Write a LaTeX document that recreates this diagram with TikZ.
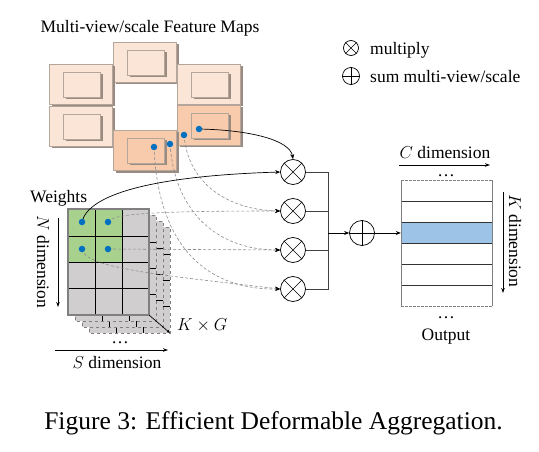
\documentclass[tikz,border=0pt]{standalone}
\usepackage{fontspec}
\setmainfont{Liberation Serif}
\usetikzlibrary{arrows.meta}
\definecolor{fpale}{HTML}{FBE5D6}
\definecolor{forange}{HTML}{F8CBAD}
\definecolor{fedge}{HTML}{B5A69C}
\definecolor{fshadow}{HTML}{9A8A80}
\definecolor{dotblue}{HTML}{0070C0}
\definecolor{cellgray}{HTML}{D0CECE}
\definecolor{cellgreen}{HTML}{A9D18E}
\definecolor{rowblue}{HTML}{9DC3E6}
\definecolor{dashgray}{HTML}{8C8C8C}
\newcommand\fblk[3]{%
  \fill[fshadow] (#1+2.5,#2+2.5) rectangle ++(63,40);
  \filldraw[fmap, fill=#3] (#1,#2) rectangle ++(63,40);
  \fill[fshadow] (#1+16.5,#2+10.5) rectangle ++(37,25);
  \filldraw[fmap, fill=#3] (#1+14,#2+8) rectangle ++(37,25);
}
\begin{document}
\begin{tikzpicture}[x=1pt,y=-1pt,
  fmap/.style={draw=fedge, line width=0.8pt},
  lab/.style={font=\fontsize{17.5}{20}\selectfont, inner sep=0pt},
  dotn/.style={circle, fill=dotblue, inner sep=0pt, minimum size=6.5pt},
  opn/.style={circle, draw, line width=0.7pt, inner sep=0pt, minimum size=25pt, fill=white},
  solc/.style={line width=0.7pt, -{Stealth[length=5pt,width=4pt]}},
  dashc/.style={dashgray, dashed, dash pattern=on 3pt off 2pt, line width=0.6pt, -{Stealth[length=5pt,width=4pt,color=black]}},
  busl/.style={line width=0.8pt, black!75},
  gridl/.style={line width=0.9pt, black},
  dimarrow/.style={line width=0.8pt, -{Stealth[length=5pt,width=3.5pt]}}]
\useasboundingbox (0,0) rectangle (539,452);

% title
\node[lab, anchor=base] (title) at (150,33) {Multi-view/scale Feature Maps};

% feature map blocks
\fblk{113}{42}{fpale}
\fblk{49}{64}{fpale}
\fblk{177}{64}{fpale}
\fblk{49}{106}{fpale}
\fblk{177}{105}{forange}
\fblk{113}{130}{forange}

% legend
\node[opn, minimum size=15pt] (lm) at (351,48) {};
\draw[line width=0.7pt] (lm.north west) -- (lm.south east) (lm.north east) -- (lm.south west);
\node[lab, anchor=base west] (lmt) at (370,55) {multiply};
\node[opn, minimum size=17pt] (ls) at (351,76) {};
\draw[line width=0.7pt] (ls.north) -- (ls.south) (ls.east) -- (ls.west);
\node[lab, anchor=base west] (lst) at (370,83) {sum multi-view/scale};

% weights stack (back layers)
\foreach \i in {3,2,1}{
  \begin{scope}[shift={(7*\i,6*\i)}]
    \filldraw[fill=cellgray, draw=gray, dashed, line width=0.8pt] (68,209) rectangle (149,315);
    \draw[gridl] (95,209)--(95,315) (122,209)--(122,315) (68,236)--(149,236) (68,262)--(149,262) (68,288)--(149,288);
  \end{scope}
}
% front layer
\fill[cellgray] (68,209) rectangle (149,315);
\fill[cellgreen] (68,209) rectangle (122,262);
\draw[gridl] (95,209)--(95,315) (122,209)--(122,315) (68,236)--(149,236) (68,262)--(149,262) (68,288)--(149,288);
\draw[draw=gray, line width=1.2pt] (68,209) rectangle (149,315);
\coordinate (fc) at (149,315);
\coordinate (bcn) at (170,333);
\draw[line width=0.7pt, -{Latex[length=3pt,width=3pt]}] (fc) -- (bcn);
\node[lab, anchor=west] (kg) at (177,325) {$K\times G$};
\node[lab, anchor=base] (sdots) at (120,343) {…};
\coordinate (sa) at (55,350);
\coordinate (sb) at (168,350);
\draw[dimarrow] (sa) -- (sb);
\node[lab, anchor=base] (st) at (117,368) {$S$ dimension};
\node[lab, anchor=base west] (wt) at (30,202) {Weights};
\coordinate (na) at (58,218);
\coordinate (nb) at (58,307);
\draw[dimarrow] (na) -- (nb);
\node[lab, rotate=-90] (nt) at (43,262) {$N$ dimension};

% dot coordinates
\coordinate (f1) at (199,129);
\coordinate (f2) at (184,135);
\coordinate (f3) at (170,144);
\coordinate (f4) at (154,147);
\coordinate (w1) at (82,222);
\coordinate (w2) at (108,222);
\coordinate (w3) at (82,249);
\coordinate (w4) at (108,249);

% operators
\node[opn] (m1) at (293,172) {};
\node[opn] (m2) at (293,211) {};
\node[opn] (m3) at (293,250) {};
\node[opn] (m4) at (293,289) {};
\foreach \n in {m1,m2,m3,m4}{
  \draw[line width=0.7pt] (\n.north west) -- (\n.south east) (\n.north east) -- (\n.south west);
}
\node[opn] (s) at (362,233) {};
\draw[line width=0.7pt] (s.north) -- (s.south) (s.east) -- (s.west);

% connectors
\draw[dashc] (f2) .. controls (188,185) and (230,210) .. (m2.west);
\draw[dashc] (f3) .. controls (175,215) and (220,250) .. (m3.west);
\draw[dashc] (f4) .. controls (158,250) and (210,290) .. (m4.west);
\draw[dashc] (w2) .. controls (112,214) and (150,211) .. (m2.west);
\draw[dashc] (w4) -- (m3.west);
\draw[dashc] (w3) .. controls (84,268) and (160,275) .. (m4.west);
\draw[solc] (f1) .. controls (250,130) and (290,140) .. (m1.north);
\draw[solc] (w1) .. controls (88,195) and (150,176) .. (m1.west);

% dots
\foreach \d in {f1,f2,f3,f4,w1,w2,w3,w4}{
  \node[dotn] at (\d) {};
}

% bus
\coordinate (bm) at (328,233);
\draw[busl] (m1.east) -| (bm);
\draw[busl] (m2.east) -| (bm);
\draw[busl] (m3.east) -| (bm);
\draw[busl] (m4.east) -| (bm);
\draw[solc] (bm) -- (s.west);

% output
\node[inner sep=0pt, minimum width=91pt, minimum height=126pt] (out) at (446.5,243) {};
\fill[rowblue] (401,222) rectangle (492,243);
\draw[line width=0.7pt, black!80] (401,201)--(492,201) (401,222)--(492,222) (401,243)--(492,243) (401,264)--(492,264) (401,285)--(492,285);
\draw[gray, line width=0.9pt] (401,180)--(401,306) (492,180)--(492,306);
\draw[gray, dashed, dash pattern=on 2.5pt off 1.5pt, line width=0.9pt] (401,180)--(492,180) (401,306)--(492,306);
\draw[solc] (s.east) -- (s.east -| out.west);
\node[lab, anchor=base] (odt) at (446,176) {…};
\node[lab, anchor=base] (odb) at (446,318) {…};
\node[lab, anchor=base] (ot) at (446,340) {Output};
\coordinate (ca) at (399,165);
\coordinate (cb) at (490,165);
\draw[dimarrow] (ca) -- (cb);
\node[lab, anchor=base] (ct) at (445,159) {$C$ dimension};
\coordinate (ka) at (503,192);
\coordinate (kb) at (503,293);
\draw[dimarrow] (ka) -- (kb);
\node[lab, rotate=-90] (kt) at (515,241) {$K$ dimension};

% caption
\node[font=\fontsize{25.5}{30}\selectfont, inner sep=0pt, anchor=base] (cap) at (273.5,429) {Figure 3: Efficient Deformable Aggregation.};
\end{tikzpicture}
\end{document}
